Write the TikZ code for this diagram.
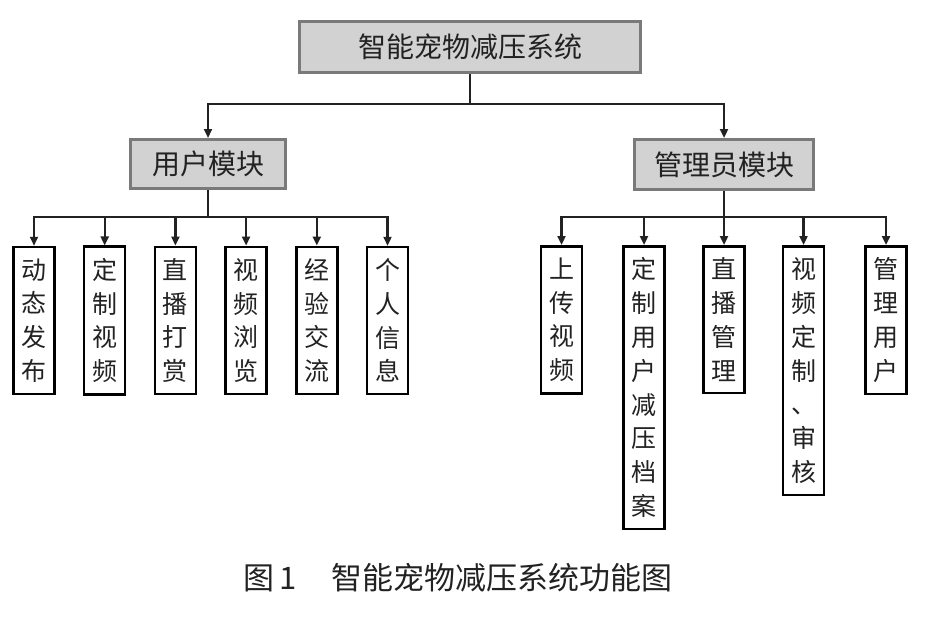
\documentclass[tikz,border=0pt]{standalone}
\usepackage{fontspec}
\newfontfamily\cjk{Noto Sans CJK SC}
\usepackage{tikz}
\usetikzlibrary{arrows.meta,positioning}
\definecolor{gray8}{HTML}{D2D2D2}
\definecolor{gray5}{HTML}{7A7A7A}
\definecolor{ink}{HTML}{222222}

\begin{document}
\begin{tikzpicture}
[x=1pt,y=-1pt,align=center,node distance=70.7pt,font=\cjk,text=ink]
\tikzstyle{head}=[fill=gray8,draw=gray5,line width=3pt,inner sep=0pt,font=\cjk\fontsize{28}{28}\selectfont]
\tikzstyle{leaf}=[draw=black,line width=2.5pt,minimum width=41pt,inner xsep=0pt,inner ysep=11.5pt,font=\cjk\fontsize{25}{33.8}\selectfont]
\tikzstyle{wire}=[draw=ink,line width=2.2pt]
\tikzstyle{link}=[wire,-{Triangle[length=9pt,width=8pt]}]

\useasboundingbox (0,0) rectangle (936,618);

\draw node [head,minimum width=341pt,minimum height=51pt] (root) at (470,47) {智能宠物减压系统};
\draw node [head,minimum width=155pt,minimum height=49pt] (user) at (208,164) {用户模块};
\draw node [head,minimum width=179pt,minimum height=50pt] (admin) at (724,164.5) {管理员模块};

% user leaves
\draw node [leaf] (u1) at (34,320.5) {动\\态\\发\\布};
\draw node [leaf,right of=u1] (u2) {定\\制\\视\\频};
\draw node [leaf,right of=u2] (u3) {直\\播\\打\\赏};
\draw node [leaf,right of=u3] (u4) {视\\频\\浏\\览};
\draw node [leaf,right of=u4] (u5) {经\\验\\交\\流};
\draw node [leaf,right of=u5] (u6) {个\\人\\信\\息};

% admin leaves
\draw node [leaf,anchor=north] (a1) at (561.5,245) {上\\传\\视\\频};
\draw node [leaf,anchor=north] (a2) at (644,245) {定\\制\\用\\户\\减\\压\\档\\案};
\draw node [leaf,anchor=north] (a3) at (724,245) {直\\播\\管\\理};
\draw node [leaf,anchor=north] (a4) at (803.5,245) {视\\频\\定\\制\\、\\审\\核};
\draw node [leaf,anchor=north] (a5) at (886,245) {管\\理\\用\\户};

\draw node (cap) at (458,578) {\fontsize{31}{31}\selectfont 图\,1\hspace{1.1em}智能宠物减压系统功能图};

\coordinate (j0) at (470,104);
\coordinate (j1) at (208,217);
\coordinate (j2) at (724,217);

\draw [wire] (root.south) -- (j0);
\draw [link] (j0) -| (user.north);
\draw [link] (j0) -| (admin.north);

\draw [wire] (user.south) -- (j1);
\draw [link] (j1) -| (u1.north);
\draw [link] (j1) -| (u2.north);
\draw [link] (j1) -| (u3.north);
\draw [link] (j1) -| (u4.north);
\draw [link] (j1) -| (u5.north);
\draw [link] (j1) -| (u6.north);

\draw [wire] (admin.south) -- (j2);
\draw [link] (j2) -| (a1.north);
\draw [link] (j2) -| (a2.north);
\draw [link] (j2) -| (a3.north);
\draw [link] (j2) -| (a4.north);
\draw [link] (j2) -| (a5.north);

\end{tikzpicture}
\end{document}
